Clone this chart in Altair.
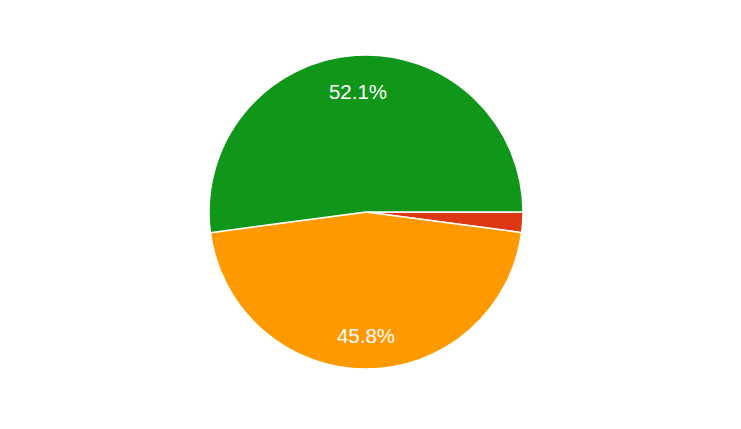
import math
import altair as alt
import pandas as pd

categories = ["Other", "No", "Yes"]
values = [2.1, 45.8, 52.1]
colors = ["#dc3912", "#ff9900", "#109618"]
order = [0, 1, 2]

df = pd.DataFrame({"category": categories, "value": values, "order": order})
df["label"] = [f"{v:.1f}%" if v >= 5 else "" for v in values]

theta_scale = alt.Scale(range=[math.pi / 2, math.pi / 2 + 2 * math.pi])
color_scale = alt.Scale(domain=categories, range=colors)

base = alt.Chart(df).encode(
    theta=alt.Theta("value:Q", stack=True, scale=theta_scale),
    order=alt.Order("order:Q"),
)

pie = base.mark_arc(outerRadius=157, stroke="white", strokeWidth=1.5).encode(
    color=alt.Color("category:N", scale=color_scale, legend=None)
)

text = base.mark_text(
    radius=122, dy=2.5, fontSize=20.5, font="Arial", color="white", align="center", baseline="middle"
).encode(text="label:N")

chart = (
    alt.layer(pie, text)
    .properties(width=716, height=408, padding=0)
    .configure_view(stroke=None)
)

chart.save("out.html", embed_options={"renderer": "svg", "actions": False})
